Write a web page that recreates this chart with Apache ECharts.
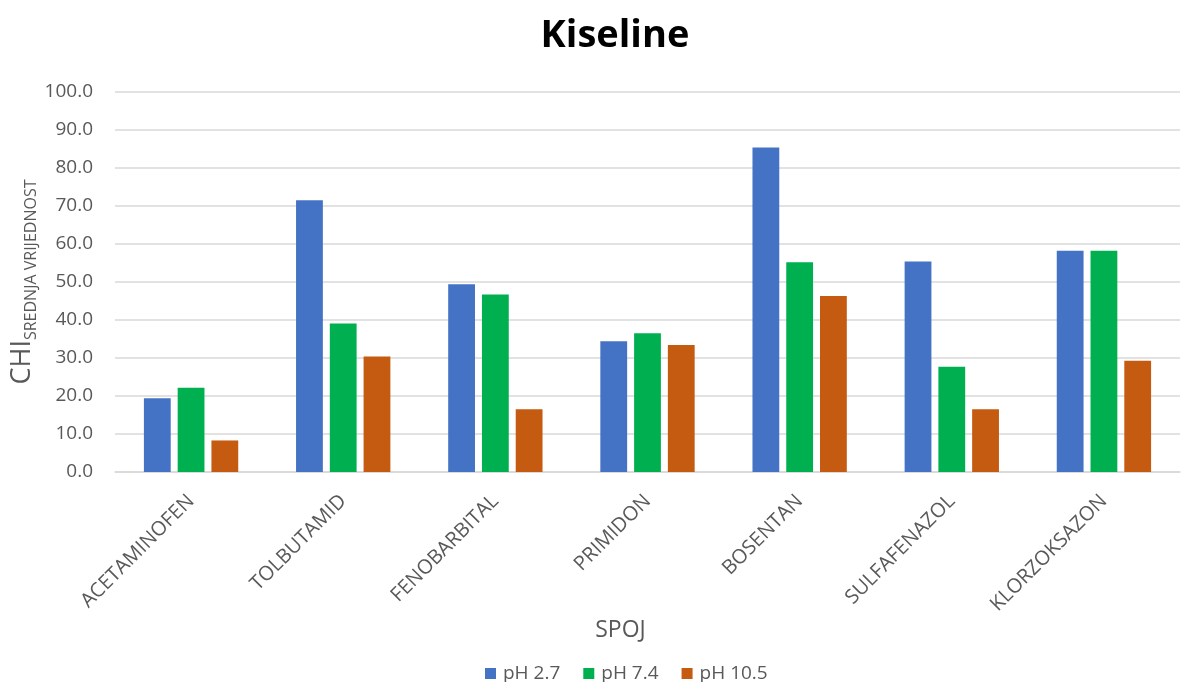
<!DOCTYPE html>
<html>
<head>
<meta charset="utf-8">
<script src="https://cdn.jsdelivr.net/npm/echarts@6/dist/echarts.min.js"></script>
<style>html,body{margin:0;padding:0;background:#fff}#c{width:1184px;height:682px}</style>
</head>
<body>
<div id="c"></div>
<script>
const categories = ['ACETAMINOFEN','TOLBUTAMID','FENOBARBITAL','PRIMIDON','BOSENTAN','SULFAFENAZOL','KLORZOKSAZON'];
const seriesNames = ['pH 2.7','pH 7.4','pH 10.5'];
const ph27 = [19.4, 71.5, 49.4, 34.4, 85.4, 55.4, 58.2];
const ph74 = [22.2, 39.1, 46.7, 36.5, 55.2, 27.7, 58.2];
const ph105 = [8.3, 30.4, 16.5, 33.4, 46.3, 16.5, 29.3];
const yTicks = {min: 0, max: 100, interval: 10};

const FONT = '"Open Sans", sans-serif';
const colors = ['#4472C4', '#00B050', '#C55A11'];
const chart = echarts.init(document.getElementById('c'));
chart.setOption({
  animation: false,
  color: colors,
  textStyle: {fontFamily: FONT},
  title: {
    text: 'Kiseline', left: 610, textAlign: 'center', top: 12,
    textStyle: {fontFamily: FONT, fontSize: 38, fontWeight: 'bold', color: '#000'}
  },
  grid: {left: 115, right: 4, top: 92, bottom: 210, outerBoundsMode: 'none', containLabel: false},
  legend: {
    top: 659, left: 480, itemWidth: 11, itemHeight: 11, itemGap: 23,
    icon: 'rect',
    textStyle: {fontFamily: FONT, fontSize: 19, color: '#595959', padding: [0, 0, 0, 2]},
    data: seriesNames
  },
  xAxis: {
    type: 'category', data: categories,
    name: 'SPOJ', nameLocation: 'middle', nameGap: 147, nameMoveOverlap: false,
    nameTextStyle: {fontFamily: FONT, fontSize: 23, color: '#595959', padding: [0, 54, 0, 0]},
    axisLine: {lineStyle: {color: '#d9d9d9', width: 1.5}},
    axisTick: {show: false},
    axisLabel: {rotate: 45, fontFamily: FONT, fontSize: 20, color: '#595959', margin: 26, interval: 0}
  },
  yAxis: {
    type: 'value', min: yTicks.min, max: yTicks.max, interval: yTicks.interval,
    name: '{a|CHI}{b|SREDNJA VRIJEDNOST}', nameLocation: 'middle', nameGap: 79, nameRotate: 90,
    nameMoveOverlap: false,
    nameTextStyle: {
      color: '#595959',
      rich: {
        a: {fontFamily: FONT, fontSize: 27, color: '#595959', verticalAlign: 'bottom', lineHeight: 30},
        b: {fontFamily: FONT, fontSize: 16, color: '#595959', verticalAlign: 'bottom', lineHeight: 16, padding: [0,0,-3,0]}
      }
    },
    axisLine: {show: false},
    axisTick: {show: false},
    splitLine: {lineStyle: {color: '#d9d9d9', width: 1.5}},
    axisLabel: {fontFamily: FONT, fontSize: 19, color: '#595959', margin: 22,
      formatter: v => v.toFixed(1)}
  },
  series: [
    {name: seriesNames[0], type: 'bar', data: ph27, barGap: '26%', barCategoryGap: '38%'},
    {name: seriesNames[1], type: 'bar', data: ph74, barGap: '26%', barCategoryGap: '38%'},
    {name: seriesNames[2], type: 'bar', data: ph105, barGap: '26%', barCategoryGap: '38%'}
  ]
});
</script>
</body>
</html>
